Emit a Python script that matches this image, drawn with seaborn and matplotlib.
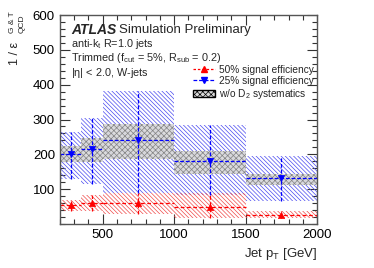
import numpy as np
import pandas as pd
import seaborn as sns
import matplotlib.pyplot as plt
from matplotlib.lines import Line2D
from matplotlib.patches import Patch
from matplotlib.ticker import MultipleLocator

# ---- data ----
bin_edges = [200, 350, 500, 1000, 1500, 2000]
pt_centers = [275, 425, 750, 1250, 1750]

eff25 = [200, 214, 240, 181, 132]
eff25_lo = [130, 116, 90, 83, 67]
eff25_hi = [264, 305, 383, 283, 194]
eff25_nod2_lo = [178, 178, 188, 145, 111]
eff25_nod2_hi = [223, 248, 286, 209, 143]

eff50 = [54, 59, 61, 48, 26]
eff50_lo = [38, 38, 30, 16, 16]
eff50_hi = [70, 83, 90, 88, 37]

labels = ["50% signal efficiency", "25% signal efficiency", r"w/o D$_2$ systematics"]

# ---- style ----
sns.set_theme(style="ticks")
plt.rcParams['font.family'] = ['Liberation Sans', 'DejaVu Sans']
plt.rcParams['mathtext.fontset'] = 'custom'
plt.rcParams['mathtext.rm'] = 'Liberation Sans'
plt.rcParams['mathtext.it'] = 'Liberation Sans:italic'
plt.rcParams['mathtext.default'] = 'regular'
plt.rcParams['hatch.linewidth'] = 0.5

W, H = 374, 268
fig = plt.figure(figsize=(W / 100, H / 100), dpi=100)
ax = fig.add_axes([0.160, 0.164, 0.688, 0.780])

edges = np.array(bin_edges)


def band(lo, hi, **kw):
    # step-shaped band over the pT bins
    ax.fill_between(edges, list(lo) + [lo[-1]], list(hi) + [hi[-1]], step='post', **kw)


dense = '\\' * 8
band(eff25_lo, eff25_hi, facecolor='none', edgecolor='#4a4af0', hatch=dense, linewidth=0)
band(eff50_lo, eff50_hi, facecolor='none', edgecolor='#f04a4a', hatch=dense, linewidth=0)
band(eff25_nod2_lo, eff25_nod2_hi, facecolor='#dadada', edgecolor='#7a7a7a', hatch='xxxxxx',
     linewidth=0, alpha=0.9)

xerr = [np.array(pt_centers) - edges[:-1], edges[1:] - np.array(pt_centers)]


def points(y, lo, hi, color, ls, marker):
    yerr = [np.array(y) - np.array(lo), np.array(hi) - np.array(y)]
    eb = ax.errorbar(pt_centers, y, xerr=xerr, yerr=yerr, fmt='none', ecolor=color,
                     elinewidth=0.9, capsize=0)
    for c in eb[2]:
        c.set_linestyle(ls)
    df = pd.DataFrame({'pt': pt_centers, 'eff': y})
    sns.scatterplot(data=df, x='pt', y='eff', color=color, marker=marker, s=20,
                    edgecolor=color, linewidth=0.5, ax=ax, zorder=5)


points(eff50, eff50_lo, eff50_hi, 'red', (0, (3, 2)), '^')
points(eff25, eff25_lo, eff25_hi, 'blue', (0, (3, 1.5)), 'v')

ax.set_xlim(200, 2000)
ax.set_ylim(0, 600)
ax.xaxis.set_major_locator(MultipleLocator(500))
ax.xaxis.set_minor_locator(MultipleLocator(100))
ax.yaxis.set_major_locator(MultipleLocator(100))
ax.yaxis.set_minor_locator(MultipleLocator(20))
ax.set_yticks([100, 200, 300, 400, 500, 600])
ax.tick_params(which='both', direction='in', top=True, right=True, labelsize=9.5, colors='#333333',
               labelcolor='black', width=0.8)
ax.tick_params(which='major', length=7)
ax.tick_params(which='minor', length=3.5)
for s in ax.spines.values():
    s.set_color('#555555')
    s.set_linewidth(1.0)
ax.set_ylabel('')

ax.set_xlabel(r'Jet p$_T$ [GeV]', fontsize=9.5, loc='right')
ax.xaxis.set_label_coords(1.0, -0.105)

# y label composed by hand: 1 / eps^{G & T}_{QCD}
fig.text(15.5 / W, 1 - 53 / H, '1 / \u03b5', rotation=90, ha='center', va='center', fontsize=9)
fig.text(13.0 / W, 1 - 22 / H, 'G & T', rotation=90, ha='center', va='center', fontsize=6)
fig.text(22.5 / W, 1 - 24 / H, 'QCD', rotation=90, ha='center', va='center', fontsize=6)

# ---- annotations ----
ax.text(0.045, 0.928, 'ATLAS', transform=ax.transAxes, fontsize=10, fontweight='bold',
        style='italic', va='center')
ax.text(0.23, 0.928, 'Simulation Preliminary', transform=ax.transAxes, fontsize=9.5, va='center')
ax.text(0.045, 0.861, r'anti-k$_t$ R=1.0 jets', transform=ax.transAxes, fontsize=7.8, va='center')
ax.text(0.045, 0.793, r'Trimmed (f$_{cut}$ = 5%, R$_{sub}$ = 0.2)', transform=ax.transAxes,
        fontsize=7.8, va='center')
ax.text(0.045, 0.722, r'|$\eta$| < 2.0, W-jets', transform=ax.transAxes, fontsize=7.8, va='center')

handles = [
    Line2D([], [], color='red', ls=(0, (2, 1.5)), marker='^', markersize=4, lw=0.9),
    Line2D([], [], color='blue', ls=(0, (3, 1.5)), marker='v', markersize=4, lw=0.9),
    Patch(facecolor='#dadada', edgecolor='black', hatch='xxxxxx', linewidth=1.0),
]
ax.legend(handles, labels, loc='upper left', bbox_to_anchor=(0.49, 0.795), frameon=False,
          fontsize=7.3, handlelength=2.2, handletextpad=0.4, labelspacing=0.1, borderpad=0.2)

fig.savefig('out.png', dpi=100)
